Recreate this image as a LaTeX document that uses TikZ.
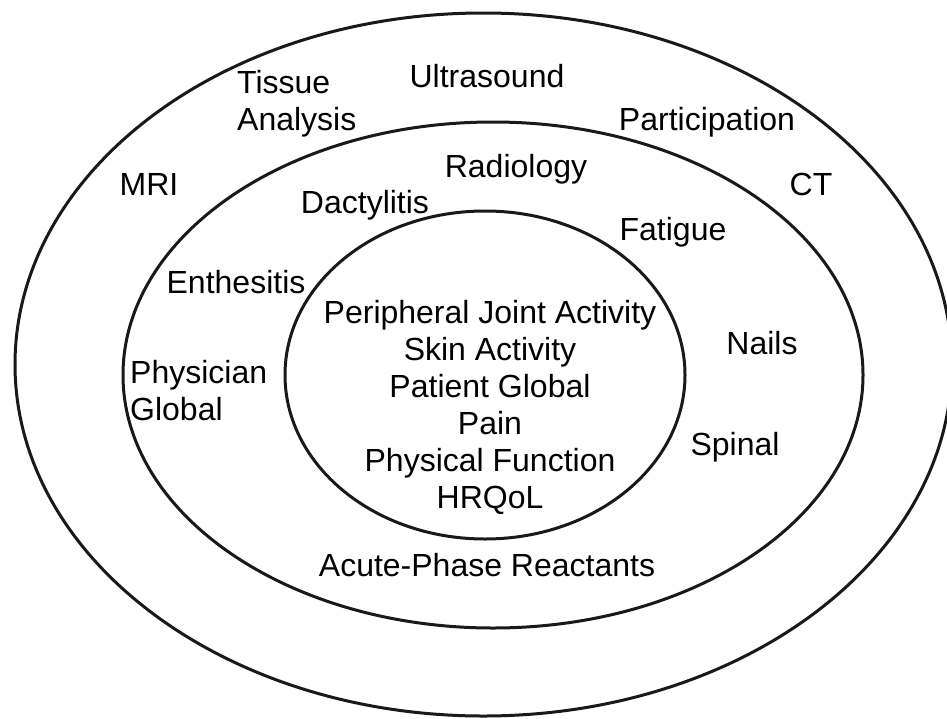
\documentclass[tikz,border=0pt]{standalone}
\usepackage{fontspec}
\setmainfont{Liberation Sans}
\begin{document}
\begin{tikzpicture}[x=1pt,y=-1pt,
  ring/.style={draw=black!90,line width=3pt},
  lbl/.style={inner sep=0pt,anchor=base,font=\fontsize{32}{37}\selectfont},
  lbll/.style={lbl,anchor=base west,align=left},
  lblc/.style={lbl,align=center}]
\useasboundingbox[fill=white] (0,0) rectangle (947,718);
\begin{scope}
\clip (0,0) rectangle (947,718);
\draw[ring] (483.4,364.5) ellipse [x radius=468.4, y radius=351.5];
\end{scope}
\draw[ring] (493,375) ellipse [x radius=370, y radius=253];
\draw[ring] (485,375) ellipse [x radius=200, y radius=164];
% outer ring
\node[lbll] (tissue) at (237,130) {Tissue\\Analysis};
\node[lbl] (ultra) at (487,87) {Ultrasound};
\node[lbl] (part) at (707,130) {Participation};
\node[lbl] (mri) at (149,195) {MRI};
\node[lbl] (ct) at (811,195) {CT};
% middle ring
\node[lbl] (radio) at (516,177) {Radiology};
\node[lbl] (dact) at (365,213) {Dactylitis};
\node[lbl] (fat) at (673,240) {Fatigue};
\node[lbl] (enth) at (236,293) {Enthesitis};
\node[lbll] (phys) at (130,420) {Physician\\Global};
\node[lbl] (nails) at (762,354) {Nails};
\node[lbl] (spinal) at (735,455) {Spinal};
\node[lbl] (acute) at (487,576) {Acute-Phase Reactants};
% inner ring
\node[lblc] (core) at (490,508) {Peripheral Joint Activity\\Skin Activity\\Patient Global\\Pain\\Physical Function\\HRQoL};
\end{tikzpicture}
\end{document}
